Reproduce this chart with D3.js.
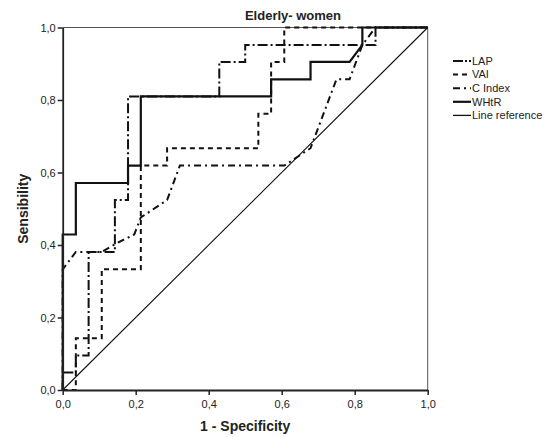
<!DOCTYPE html>
<html>
<head>
<meta charset="UTF-8" />
<script src="https://d3js.org/d3.v7.min.js"></script>
<style>
  body { margin: 0; background: #fff; }
  text { font-family: "Liberation Sans", Arial, sans-serif; fill: #222; }
</style>
</head>
<body>
<div id="chart"></div>
<script>
  // ROC points (1 - specificity, sensitivity)
  var lapX = [0, 0, 0.036, 0.036, 0.071, 0.071, 0.143, 0.143, 0.179, 0.179, 0.429, 0.429, 0.5, 0.5, 0.857, 0.857, 1];
  var lapY = [0, 0.048, 0.048, 0.095, 0.095, 0.381, 0.381, 0.524, 0.524, 0.81, 0.81, 0.905, 0.905, 0.952, 0.952, 1, 1];

  var vaiX = [0, 0.036, 0.036, 0.107, 0.107, 0.214, 0.214, 0.286, 0.286, 0.536, 0.536, 0.571, 0.571, 0.607, 0.607, 1];
  var vaiY = [0, 0, 0.143, 0.143, 0.333, 0.333, 0.619, 0.619, 0.667, 0.667, 0.762, 0.762, 0.905, 0.905, 1, 1];

  var cIndexX = [0, 0, 0.036, 0.107, 0.148, 0.196, 0.214, 0.286, 0.321, 0.607, 0.679, 0.75, 0.786, 0.821, 0.857, 1];
  var cIndexY = [0, 0.333, 0.381, 0.381, 0.405, 0.429, 0.476, 0.524, 0.619, 0.619, 0.667, 0.857, 0.857, 0.952, 1, 1];

  var whtrX = [0, 0, 0.036, 0.036, 0.179, 0.179, 0.214, 0.214, 0.571, 0.571, 0.679, 0.679, 0.786, 0.821, 0.821, 1];
  var whtrY = [0, 0.429, 0.429, 0.571, 0.571, 0.619, 0.619, 0.81, 0.81, 0.857, 0.857, 0.905, 0.905, 0.952, 1, 1];

  var refX = [0, 1];
  var refY = [0, 1];

  var tickValues = [0, 0.2, 0.4, 0.6, 0.8, 1];
  var seriesNames = ["LAP", "VAI", "C Index", "WHtR", "Line reference"];

  var margin = { top: 27.5, left: 62.7 },
    width = 365,
    height = 362.5;

  var svg = d3.select("#chart").append("svg")
    .attr("width", 550)
    .attr("height", 437);

  var g = svg.append("g")
    .attr("transform", "translate(" + margin.left + "," + margin.top + ")");

  var x = d3.scaleLinear().domain([0, 1]).range([0, width]);
  var y = d3.scaleLinear().domain([0, 1]).range([height, 0]);

  var fmt = function (d) { return d3.format(".1f")(d).replace(".", ","); };

  // frame (top and right sides)
  g.append("path")
    .attr("d", "M0," + y(1) + "H" + x(1) + "V" + y(0))
    .attr("fill", "none")
    .attr("stroke", "#555")
    .attr("stroke-width", 1);

  function pts(xs, ys) {
    return xs.map(function (d, i) { return [d, ys[i]]; });
  }

  var line = d3.line()
    .x(function (d) { return x(d[0]); })
    .y(function (d) { return y(d[1]); });

  var series = [
    { name: "Line reference", data: pts(refX, refY), dash: null, w: 1.1 },
    { name: "VAI", data: pts(vaiX, vaiY), dash: "5,4", w: 2 },
    { name: "C Index", data: pts(cIndexX, cIndexY), dash: "7,4,2,4", w: 2 },
    { name: "LAP", data: pts(lapX, lapY), dash: "10,3,2,3", w: 2 },
    { name: "WHtR", data: pts(whtrX, whtrY), dash: null, w: 2.2 }
  ];

  g.selectAll("path.roc")
    .data(series)
    .enter()
    .append("path")
    .attr("class", "roc")
    .attr("d", function (d) { return line(d.data); })
    .attr("fill", "none")
    .attr("stroke", "#111")
    .attr("stroke-width", function (d) { return d.w; })
    .attr("stroke-dasharray", function (d) { return d.dash; });

  // axes
  var xAxis = g.append("g")
    .attr("transform", "translate(0," + height + ")")
    .call(d3.axisBottom(x).tickValues(tickValues).tickFormat(fmt).tickSizeInner(5).tickSizeOuter(0));
  var yAxis = g.append("g")
    .call(d3.axisLeft(y).tickValues(tickValues).tickFormat(fmt).tickSizeInner(5).tickSizeOuter(0));

  [xAxis, yAxis].forEach(function (a) {
    a.select(".domain").attr("stroke", "#222").attr("stroke-width", 1.8);
    a.selectAll(".tick line").attr("stroke", "#222").attr("stroke-width", 1.5);
    a.selectAll("text")
      .style("font-family", '"Liberation Sans", Arial, sans-serif')
      .style("font-size", "11px")
      .attr("fill", "#222");
  });
  xAxis.selectAll("text").attr("dy", "0.9em");
  yAxis.selectAll("text").attr("x", -7);

  // titles
  svg.append("text")
    .attr("x", 293)
    .attr("y", 20)
    .attr("text-anchor", "middle")
    .style("font-size", "13px")
    .style("font-weight", "bold")
    .text("Elderly- women");

  svg.append("text")
    .attr("x", margin.left + width / 2)
    .attr("y", 431)
    .attr("text-anchor", "middle")
    .style("font-size", "14px")
    .style("font-weight", "bold")
    .text("1 - Specificity");

  svg.append("text")
    .attr("transform", "translate(28," + (margin.top + height / 2) + ") rotate(-90)")
    .attr("text-anchor", "middle")
    .style("font-size", "14px")
    .style("font-weight", "bold")
    .text("Sensibility");

  // legend
  var legendStyle = {
    "LAP": { dash: "10,2,2,2", w: 2 },
    "VAI": { dash: "5,4", w: 2 },
    "C Index": { dash: "7,4,2,4", w: 2 },
    "WHtR": { dash: null, w: 2.2 },
    "Line reference": { dash: null, w: 1.3 }
  };

  var legend = svg.append("g").attr("transform", "translate(453,61)");
  var item = legend.selectAll("g")
    .data(seriesNames)
    .enter()
    .append("g")
    .attr("transform", function (d, i) { return "translate(0," + i * 13.6 + ")"; });

  item.append("line")
    .attr("x1", 0).attr("x2", 18)
    .attr("y1", 0).attr("y2", 0)
    .attr("stroke", "#111")
    .attr("stroke-width", function (d) { return legendStyle[d].w; })
    .attr("stroke-dasharray", function (d) { return legendStyle[d].dash; });

  item.append("text")
    .attr("x", 19)
    .attr("y", 0)
    .attr("dy", "0.35em")
    .style("font-size", "11px")
    .text(function (d) { return d; });
</script>
</body>
</html>
